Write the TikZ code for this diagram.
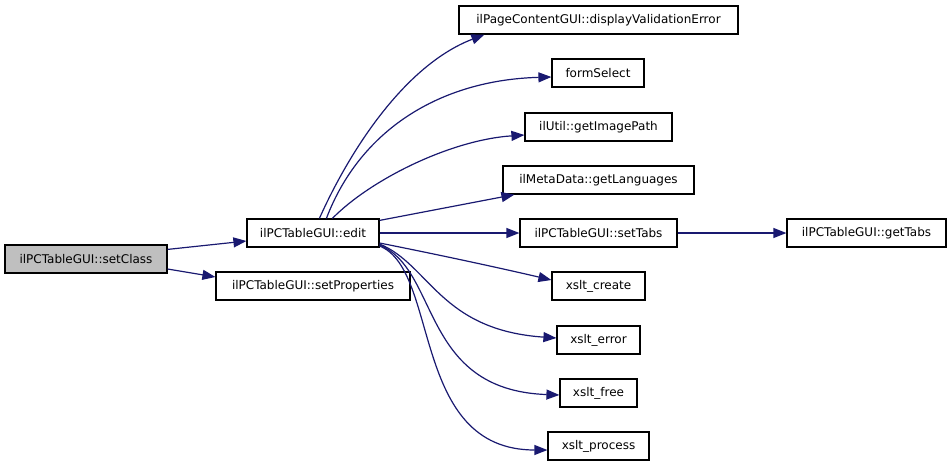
\documentclass[tikz,border=0pt]{standalone}
\usepackage{fontspec}
\setmainfont{DejaVu Sans}
\usetikzlibrary{arrows.meta}
\definecolor{edgeblue}{HTML}{191970}
\definecolor{rootgray}{HTML}{BFBFBF}
\begin{document}
\begin{tikzpicture}[x=1pt,y=-1pt,
  fn/.style={draw=black,line width=1.2pt,fill=white,minimum height=28pt,inner sep=0pt,
    font=\fontsize{12}{14}\selectfont,text=black},
  call/.style={draw=edgeblue,line width=1.2pt,-{Triangle[length=13pt,width=10pt]},edgeblue}]
\useasboundingbox (0,0) rectangle (949,467);
\node[fn,fill=rootgray,minimum width=162pt] (setClass) at (86,259) {ilPCTableGUI::setClass};
\node[fn,minimum width=132pt] (edit) at (313,233) {ilPCTableGUI::edit};
\node[fn,minimum width=194pt] (setProperties) at (313,286) {ilPCTableGUI::setProperties};
\node[fn,minimum width=279pt] (dve) at (598.5,20) {ilPageContentGUI::displayValidationError};
\node[fn,minimum width=92pt] (formSelect) at (598,73) {formSelect};
\node[fn,minimum width=147pt] (getImagePath) at (598.5,127) {ilUtil::getImagePath};
\node[fn,minimum width=191pt] (getLanguages) at (598.5,180) {ilMetaData::getLanguages};
\node[fn,minimum width=157pt] (setTabs) at (598.5,233) {ilPCTableGUI::setTabs};
\node[fn,minimum width=159pt] (getTabs) at (866.5,233) {ilPCTableGUI::getTabs};
\node[fn,minimum width=93pt] (xcreate) at (598.5,286) {xslt\_create};
\node[fn,minimum width=83pt] (xerror) at (598.5,340) {xslt\_error};
\node[fn,minimum width=77pt] (xfree) at (598.5,393) {xslt\_free};
\node[fn,minimum width=101pt] (xprocess) at (598.5,446) {xslt\_process};

\draw[call] ([yshift=-5pt]setClass.north east) -- ([yshift=-8pt]edit.west);
\draw[call] ([yshift=-10pt]setClass.east) -- ([yshift=9pt]setProperties.west);

\draw[call] ([xshift=73pt]edit.north west) .. controls (350,150) and (405,65) .. ([xshift=26pt]dve.south west);
\draw[call] ([xshift=80pt]edit.north west) .. controls (360,130) and (440,80) .. ([yshift=-4pt]formSelect.west);
\draw[call] ([xshift=86pt]edit.north west) .. controls (370,180) and (450,140) .. ([yshift=-8pt]getImagePath.west);
\draw[call] ([yshift=-2pt]edit.north east) -- ([xshift=12pt]getLanguages.south west);
\draw[call] (edit.east) -- (setTabs.west);
\draw[call] (setTabs.east) -- (getTabs.west);
\draw[call] ([yshift=-10pt]edit.east) .. controls (440,255) and (500,268) .. ([yshift=6pt]xcreate.west);
\draw[call] ([yshift=-11pt]edit.east) .. controls (430,265) and (440,330) .. ([yshift=2pt]xerror.west);
\draw[call] ([yshift=-12pt]edit.east) .. controls (440,270) and (420,390) .. ([yshift=-2pt]xfree.west);
\draw[call] ([yshift=-13pt]edit.east) .. controls (440,270) and (410,450) .. ([yshift=-4pt]xprocess.west);
\end{tikzpicture}
\end{document}
